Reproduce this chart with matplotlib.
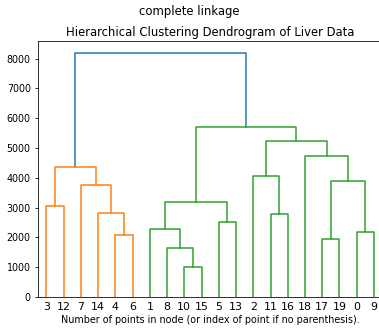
import matplotlib
matplotlib.use("Agg")
import matplotlib.pyplot as plt

# leaf labels in the order they appear left to right
LEAF_ORDER = [3, 12, 7, 14, 4, 6, 1, 8, 10, 15, 5, 13, 2, 11, 16, 18, 17, 19, 0, 9]

# merges: node 20 + i joins LEFT[i] and RIGHT[i] at HEIGHT[i]
LEFT = [10, 4, 0, 8, 1, 5, 11, 14, 3, 17, 24, 7, 29, 2, 28, 18, 33, 30, 34]
RIGHT = [15, 6, 9, 20, 23, 13, 16, 21, 12, 19, 25, 27, 22, 26, 31, 32, 35, 36, 37]
HEIGHT = [993, 2097, 2187, 1651, 2287, 2510, 2789, 2823, 3068, 1930,
          3202, 3749, 3905, 4072, 4362, 4741, 5233, 5701, 8190]

N_LEAVES = len(LEAF_ORDER)
THRESHOLD = 0.7 * max(HEIGHT)
CLUSTER_COLORS = ["#ff7f0e", "#2ca02c"]
ABOVE_COLOR = "#1f77b4"

leaf_x = {leaf: 5 + 10 * i for i, leaf in enumerate(LEAF_ORDER)}


def node_x(node):
    if node < N_LEAVES:
        return leaf_x[node]
    k = node - N_LEAVES
    return (node_x(LEFT[k]) + node_x(RIGHT[k])) / 2


def node_h(node):
    return 0 if node < N_LEAVES else HEIGHT[node - N_LEAVES]


def draw(ax, node, color=None, counter=[0]):
    if node < N_LEAVES:
        return
    k = node - N_LEAVES
    h = HEIGHT[k]
    if color is None and h < THRESHOLD:
        color = CLUSTER_COLORS[counter[0] % len(CLUSTER_COLORS)]
        counter[0] += 1
    c = color if color is not None else ABOVE_COLOR
    l, r = LEFT[k], RIGHT[k]
    xl, xr = node_x(l), node_x(r)
    ax.plot([xl, xl, xr, xr], [node_h(l), h, h, node_h(r)], color=c, lw=1.5)
    draw(ax, l, color, counter)
    draw(ax, r, color, counter)


fig = plt.figure(figsize=(379 / 72, 333 / 72), dpi=72)
ax = fig.add_axes([0.0995, 0.108, 0.910, 0.770])
root = N_LEAVES + len(HEIGHT) - 1
draw(ax, root)

ax.set_xlim(0, 10 * N_LEAVES)
ax.set_ylim(0, max(HEIGHT) * 1.05)
ax.set_xticks([leaf_x[l] for l in LEAF_ORDER])
ax.set_xticklabels([str(l) for l in LEAF_ORDER], fontsize=11)
ax.tick_params(axis="x", length=0, pad=5)
ax.set_yticks(range(0, 9000, 1000))
ax.tick_params(axis="y", labelsize=9.5)
ax.set_xlabel("Number of points in node (or index of point if no parenthesis).",
              fontsize=9.6, labelpad=3)
ax.set_title("Hierarchical Clustering Dendrogram of Liver Data", fontsize=11.6, pad=5)
fig.suptitle("complete linkage", fontsize=11.6, y=0.964, va="center")

fig.savefig("out.png", dpi=72)
